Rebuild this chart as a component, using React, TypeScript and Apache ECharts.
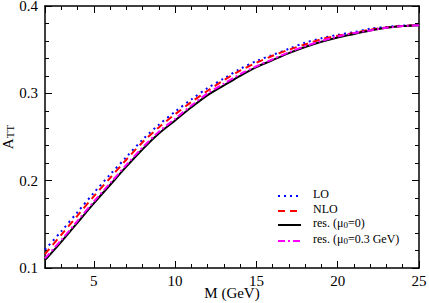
import React, { useEffect, useRef } from 'react';
import * as echarts from 'echarts';

const massGeV = [2, 3, 4, 5, 6, 7, 8, 9, 10, 11, 12, 13, 14, 15, 16, 17, 18, 19, 20, 21, 22, 23, 24, 25];
const lo = [0.121, 0.142, 0.164, 0.186, 0.207, 0.227, 0.247, 0.264, 0.279, 0.293, 0.306, 0.317, 0.328, 0.337, 0.344, 0.351, 0.358, 0.363, 0.367, 0.370, 0.374, 0.376, 0.3775, 0.378];
const nlo = [0.116, 0.138, 0.160, 0.182, 0.203, 0.224, 0.244, 0.261, 0.276, 0.290, 0.303, 0.315, 0.326, 0.335, 0.343, 0.350, 0.356, 0.362, 0.366, 0.369, 0.373, 0.3755, 0.3772, 0.378];
const res0 = [0.109, 0.130, 0.152, 0.174, 0.195, 0.216, 0.236, 0.254, 0.269, 0.284, 0.298, 0.309, 0.320, 0.330, 0.338, 0.346, 0.353, 0.359, 0.364, 0.368, 0.372, 0.375, 0.377, 0.378];
const res03 = [0.111, 0.132, 0.154, 0.176, 0.197, 0.218, 0.238, 0.256, 0.271, 0.286, 0.300, 0.311, 0.322, 0.331, 0.339, 0.347, 0.354, 0.360, 0.365, 0.369, 0.372, 0.375, 0.377, 0.378];
const xRange = [2, 25];
const yRange = [0.1, 0.4];

const FONT = 'Liberation Serif, Times New Roman, serif';

const pairs = (ys: number[]) => massGeV.map((m, i) => [m, ys[i]]);

export default function App() {
  const ref = useRef<HTMLDivElement>(null);
  useEffect(() => {
    if (!ref.current) return;
    const chart = echarts.init(ref.current, null, { renderer: 'svg' });
    const black = '#000';
    const commonX = {
      type: 'value' as const,
      min: xRange[0],
      max: xRange[1],
      splitLine: { show: false },
    };
    const legendRows = [
      { y: 196, color: '#0000ff', dash: [2, 4], rich: '{t|LO}' },
      { y: 211, color: '#ff0000', dash: [7, 5], rich: '{t|NLO}' },
      { y: 225, color: '#000000', dash: null, rich: '{t|res. (μ}{s|0}{t|=0)}' },
      { y: 241, color: '#ff00ff', dash: [7, 3, 2, 3], rich: '{t|res. (μ}{s|0}{t|=0.3 GeV)}' },
    ];
    const graphic: any[] = [];
    legendRows.forEach((r) => {
      graphic.push({
        type: 'line',
        shape: { x1: 278, y1: r.y, x2: 301, y2: r.y },
        style: { stroke: r.color, lineWidth: 2, lineDash: r.dash || undefined },
        silent: true,
      });
      graphic.push({
        type: 'text',
        x: 313,
        y: r.y,
        style: {
          text: r.rich,
          verticalAlign: 'middle',
          align: 'left',
          fill: '#000',
          rich: {
            t: { fontSize: 12, fontFamily: FONT, fill: '#000', lineHeight: 13, padding: [0, 0, 4, 0] },
            s: { fontSize: 9, fontFamily: FONT, fill: '#000', lineHeight: 10 },
          },
        },
        silent: true,
      });
    });
    chart.setOption({
      animation: false,
      backgroundColor: '#fff',
      textStyle: { fontFamily: FONT },
      grid: { left: 45, right: 10, top: 6, bottom: 35, containLabel: false, outerBoundsMode: 'none' },
      xAxis: [
        {
          ...commonX,
          position: 'bottom',
          interval: 1,
          axisLine: { show: true, onZero: false, lineStyle: { color: black, width: 1.5 } },
          axisTick: { show: true, inside: true, length: 4, lineStyle: { color: black } },
          axisLabel: {
            formatter: (v: number) => (v % 5 === 0 ? String(v) : ''),
            color: black,
            fontSize: 15,
            fontFamily: FONT,
            margin: 5,
          },
          name: 'M (GeV)',
          nameLocation: 'middle',
          nameGap: 17,
          nameMoveOverlap: false,
          nameTextStyle: { color: black, fontSize: 15, fontFamily: FONT },
        },
        {
          ...commonX,
          position: 'bottom',
          axisLine: { show: false },
          axisTick: { show: true, inside: true, length: 7, lineStyle: { color: black } },
          axisLabel: { show: false },
        },
        {
          ...commonX,
          position: 'top',
          interval: 1,
          axisLine: { show: true, onZero: false, lineStyle: { color: black, width: 1.5 } },
          axisTick: { show: true, inside: true, length: 4, lineStyle: { color: black } },
          axisLabel: { show: false },
        },
        {
          ...commonX,
          position: 'top',
          axisLine: { show: false },
          axisTick: { show: true, inside: true, length: 7, lineStyle: { color: black } },
          axisLabel: { show: false },
        },
      ],
      yAxis: [
        {
          type: 'value',
          position: 'left',
          min: yRange[0],
          max: yRange[1],
          interval: 0.1,
          splitLine: { show: false },
          axisLine: { show: true, onZero: false, lineStyle: { color: black, width: 1.5 } },
          axisTick: { show: true, inside: true, length: 7, lineStyle: { color: black } },
          minorTick: { show: true, splitNumber: 5, length: 4, lineStyle: { color: black } },
          axisLabel: {
            formatter: (v: number) => v.toFixed(1),
            color: black,
            fontSize: 15,
            fontFamily: FONT,
            margin: 7,
          },
          name: '{a|A}{s|TT}',
          nameLocation: 'middle',
          nameGap: 28,
          nameMoveOverlap: false,
          nameTextStyle: {
            color: black,
            fontFamily: FONT,
            rich: {
              a: { fontSize: 15, fontFamily: FONT, color: black, lineHeight: 15, padding: [0, 0, 4, 0] },
              s: { fontSize: 11, fontFamily: FONT, color: black, lineHeight: 11 },
            },
          },
        },
        {
          type: 'value',
          position: 'right',
          min: yRange[0],
          max: yRange[1],
          interval: 0.1,
          splitLine: { show: false },
          axisLine: { show: true, onZero: false, lineStyle: { color: black, width: 1.5 } },
          axisTick: { show: true, inside: true, length: 7, lineStyle: { color: black } },
          minorTick: { show: true, splitNumber: 5, length: 4, lineStyle: { color: black } },
          axisLabel: { show: false },
        },
      ],
      series: [
        {
          name: 'LO', type: 'line', xAxisIndex: 0, yAxisIndex: 0, data: pairs(lo),
          showSymbol: false, smooth: 0.3, z: 2,
          lineStyle: { color: '#0000ff', width: 2, type: [2, 4] },
        },
        {
          name: 'NLO', type: 'line', xAxisIndex: 0, yAxisIndex: 0, data: pairs(nlo),
          showSymbol: false, smooth: 0.3, z: 3,
          lineStyle: { color: '#ff0000', width: 2, type: [7, 5] },
        },
        {
          name: 'res0', type: 'line', xAxisIndex: 0, yAxisIndex: 0, data: pairs(res0),
          showSymbol: false, smooth: 0.3, z: 4,
          lineStyle: { color: '#000000', width: 2 },
        },
        {
          name: 'res03', type: 'line', xAxisIndex: 0, yAxisIndex: 0, data: pairs(res03),
          showSymbol: false, smooth: 0.3, z: 5,
          lineStyle: { color: '#ff00ff', width: 2, type: [7, 3, 2, 3] },
        },
      ],
      graphic,
    });
    return () => chart.dispose();
  }, []);
  return (
    <div
      ref={ref}
      style={{ position: 'fixed', left: 0, top: 0, width: 429, height: 303, background: '#fff' }}
    />
  );
}
